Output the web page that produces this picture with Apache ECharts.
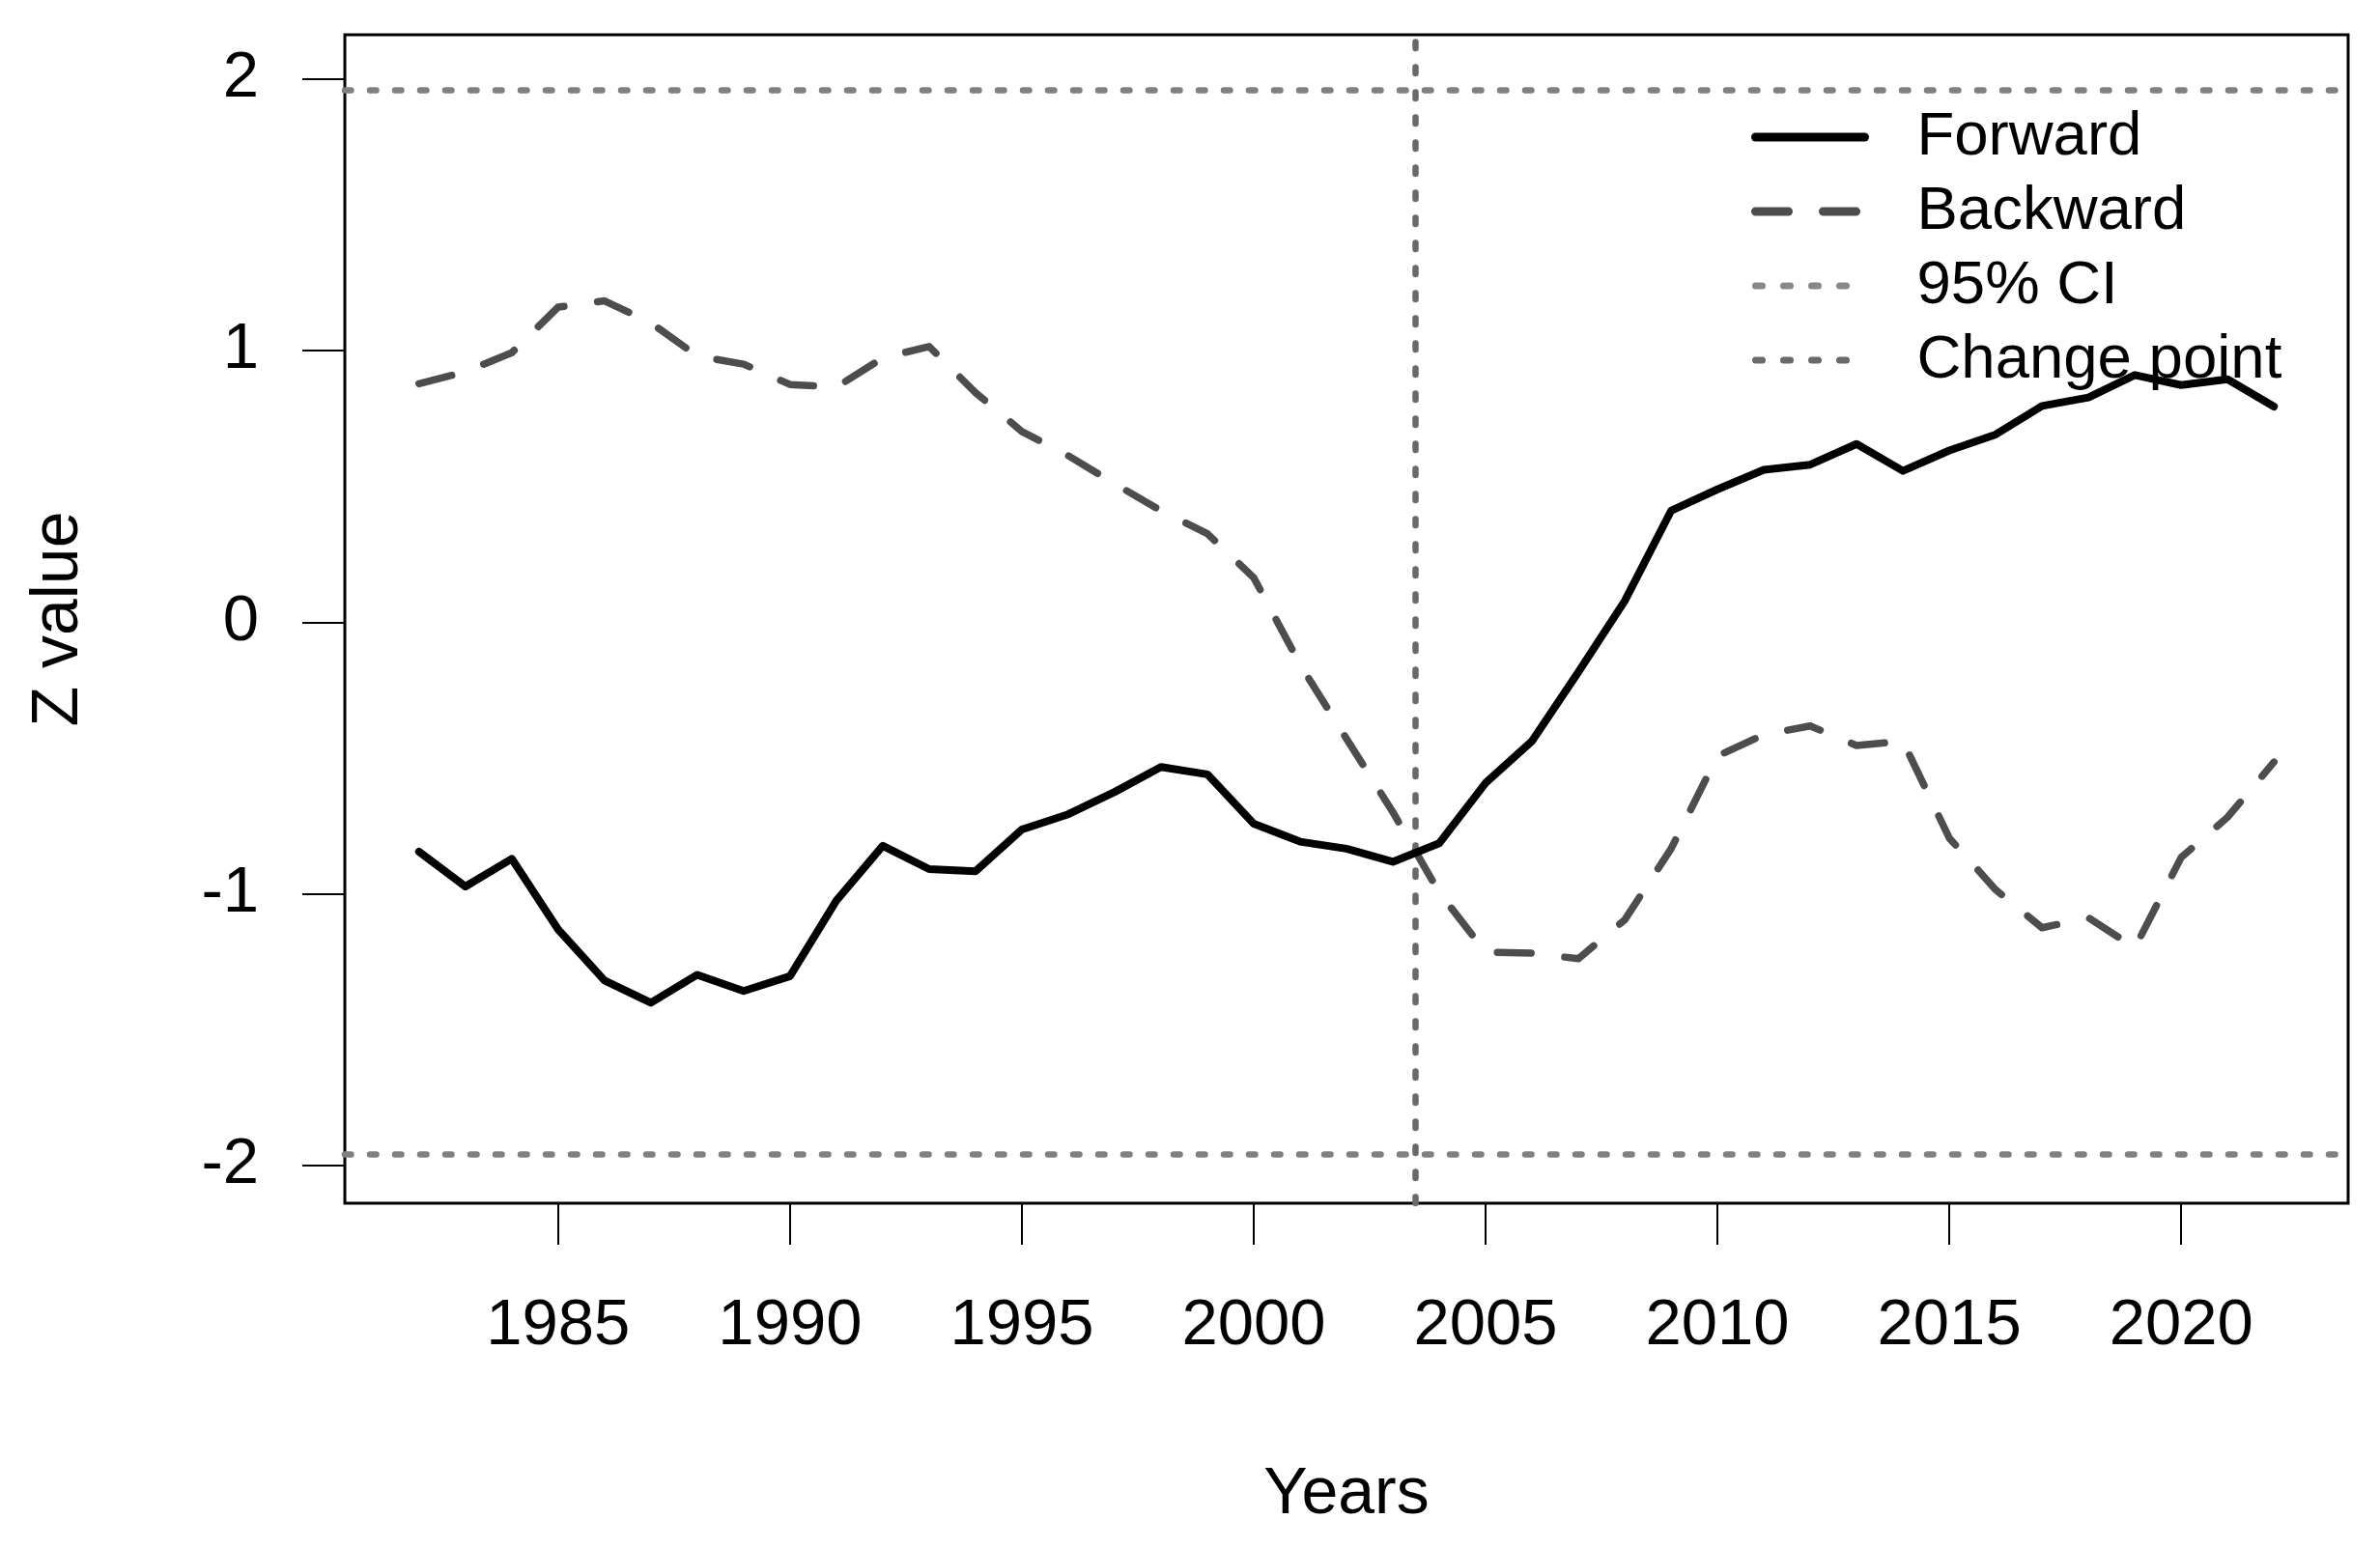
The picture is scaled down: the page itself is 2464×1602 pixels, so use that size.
<!DOCTYPE html>
<html>
<head>
<meta charset="utf-8">
<script src="https://cdn.jsdelivr.net/npm/echarts@6/dist/echarts.min.js"></script>
<style>
html,body{margin:0;padding:0;background:#fff;}
#chart{width:2464px;height:1602px;}
</style>
</head>
<body>
<div id="chart"></div>
<script>
// ---- data ----
const years = [1982,1983,1984,1985,1986,1987,1988,1989,1990,1991,1992,1993,1994,1995,1996,1997,1998,1999,2000,2001,2002,2003,2004,2005,2006,2007,2008,2009,2010,2011,2012,2013,2014,2015,2016,2017,2018,2019,2020,2021,2022];
const forward = [-0.845,-0.973,-0.871,-1.131,-1.319,-1.401,-1.298,-1.358,-1.303,
  -1.025,-0.823,-0.909,-0.917,-0.763,-0.707,-0.625,-0.533,-0.560,-0.742,
  -0.808,-0.834,-0.882,-0.814,-0.592,-0.438,-0.184,0.078,0.410,0.489,
  0.561,0.580,0.656,0.557,0.632,0.691,0.796,0.827,0.910,0.873,
  0.894,0.794];
const backward = [0.878,0.922,0.992,1.160,1.183,1.102,0.980,0.950,0.875,
  0.865,0.973,1.015,0.845,0.702,0.613,0.510,0.410,0.326,0.164,
  -0.156,-0.429,-0.699,-0.995,-1.215,-1.218,-1.239,-1.096,-0.834,-0.493,
  -0.414,-0.382,-0.454,-0.438,-0.795,-0.985,-1.125,-1.088,-1.199,-0.866,
  -0.718,-0.515];
const ciBounds = [-1.96, 1.96];
const changePoint = 2003.48;
const xTicks = [1985,1990,1995,2000,2005,2010,2015,2020];
const yTicks = [-2,-1,0,1,2];
const legendNames = ['Forward','Backward','95% CI','Change point'];

const FONT = '"Liberation Sans", Arial, Helvetica, sans-serif';
const pair = (xs, ys) => xs.map((x, i) => [x, ys[i]]);
const hiddenSymbol = {opacity: 0, color: 'transparent', borderWidth: 0};

const chart = echarts.init(document.getElementById('chart'), null, {renderer:'canvas'});
chart.setOption({
  animation: false,
  backgroundColor: '#ffffff',
  grid: {
    left: 357, right: 33, top: 36, bottom: 356,
    show: true, borderColor: '#000', borderWidth: 3, backgroundColor: 'transparent'
  },
  xAxis: {
    type: 'value', min: 1980.4, max: 2023.6,
    name: 'Years', nameLocation: 'middle', nameGap: 268,
    nameTextStyle: {fontSize: 68, fontFamily: FONT, color: '#000', lineHeight: 68},
    axisLine: {show: false, onZero: false},
    axisTick: {show: true, inside: false, length: 43, lineStyle: {color: '#000', width: 2}, customValues: xTicks},
    axisLabel: {show: true, fontSize: 67, lineHeight: 67, fontFamily: FONT, color: '#000', margin: 94, customValues: xTicks,
      formatter: v => String(v)},
    splitLine: {show: false}
  },
  yAxis: {
    type: 'value', min: -2.139, max: 2.1625,
    name: 'Z value', nameLocation: 'middle', nameGap: 262,
    nameTextStyle: {fontSize: 68, fontFamily: FONT, color: '#000', lineHeight: 68},
    axisLine: {show: false, onZero: false},
    axisTick: {show: true, inside: false, length: 44, lineStyle: {color: '#000', width: 2}, customValues: yTicks},
    axisLabel: {show: true, fontSize: 67, fontFamily: FONT, color: '#000', margin: 89, customValues: yTicks,
      formatter: v => String(v)},
    splitLine: {show: false}
  },
  legend: {
    show: true, orient: 'vertical', left: 1813, top: 110, padding: 0,
    itemWidth: 113, itemHeight: 20, itemGap: 13, selectedMode: false,
    textStyle: {fontSize: 63.5, lineHeight: 63, fontFamily: FONT, color: '#000', padding: [0,0,0,49]},
    data: [
      {name: legendNames[0], itemStyle: hiddenSymbol, lineStyle: {width: 9, color: '#000', type: 'solid', cap: 'round'}},
      {name: legendNames[1], itemStyle: hiddenSymbol, lineStyle: {width: 9, color: '#4d4d4d', type: [34, 36], cap: 'round'}},
      {name: legendNames[2], itemStyle: hiddenSymbol, lineStyle: {width: 7, color: '#888888', type: [7, 22], cap: 'round'}},
      {name: legendNames[3], itemStyle: hiddenSymbol, lineStyle: {width: 7, color: '#6a6a6a', type: [7, 22], cap: 'round'}}
    ]
  },
  series: [
    {
      name: legendNames[0], type: 'line', data: pair(years, forward),
      symbol: 'none', showSymbol: false, silent: true, z: 5,
      lineStyle: {color: '#000', width: 8, type: 'solid', join: 'round', cap: 'round'},
      itemStyle: {color: '#000'}
    },
    {
      name: legendNames[1], type: 'line', data: pair(years, backward),
      symbol: 'none', showSymbol: false, silent: true, z: 4,
      lineStyle: {color: '#4d4d4d', width: 7.5, type: [35, 35], join: 'round', cap: 'round'},
      itemStyle: {color: '#4d4d4d'}
    },
    {
      name: legendNames[2], type: 'line', data: [],
      symbol: 'none', silent: true, z: 3,
      lineStyle: {color: '#808080', width: 6.5, type: [6.5, 19.5], cap: 'round'},
      itemStyle: {color: '#808080'},
      markLine: {
        silent: true, symbol: ['none','none'], label: {show: false}, animation: false,
        lineStyle: {color: '#808080', width: 6.5, type: [6.5, 19.5], cap: 'round'},
        emphasis: {disabled: true},
        data: ciBounds.map(v => ({yAxis: v}))
      }
    },
    {
      name: legendNames[3], type: 'line', data: [],
      symbol: 'none', silent: true, z: 3,
      lineStyle: {color: '#6a6a6a', width: 6.5, type: [6.5, 19.5], cap: 'round'},
      itemStyle: {color: '#6a6a6a'},
      markLine: {
        silent: true, symbol: ['none','none'], label: {show: false}, animation: false,
        lineStyle: {color: '#6a6a6a', width: 6.5, type: [6.5, 19.5], cap: 'round'},
        emphasis: {disabled: true},
        data: [{xAxis: changePoint}]
      }
    }
  ]
});
</script>
</body>
</html>
